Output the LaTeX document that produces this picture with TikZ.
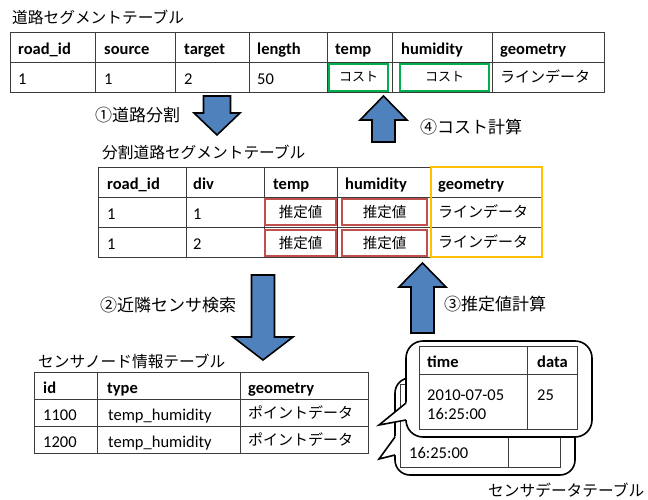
\documentclass[tikz,border=0pt]{standalone}
\usepackage{fontspec}
\setmainfont{Carlito}
\newfontfamily\jp{Noto Sans CJK JP}
\definecolor{arrowblue}{RGB}{79,129,189}
\definecolor{grn}{RGB}{0,176,80}
\definecolor{rd}{RGB}{192,80,77}
\definecolor{org}{RGB}{255,192,0}
\definecolor{gridc}{RGB}{60,60,60}
\begin{document}
\begin{tikzpicture}[x=1pt,y=-1pt,
  lt/.style={anchor=base west, inner sep=0pt, font=\fontsize{16.5}{19}\selectfont},
  lb/.style={anchor=base west, inner sep=0pt, font=\fontsize{16.5}{19}\selectfont\bfseries},
  jt/.style={anchor=base west, inner sep=0pt, font=\jp\fontsize{15.7}{18}\selectfont},
  jc/.style={anchor=base west, inner sep=0pt, font=\jp\fontsize{15}{17}\selectfont},
  jl/.style={anchor=base west, inner sep=0pt, font=\jp\fontsize{17}{19}\selectfont},
  gridline/.style={draw=gridc, line width=0.9},
  blockarrow/.style={fill=arrowblue, draw=black, line width=1.6, line join=miter},
  greenbox/.style={draw=grn, line width=2.6, fill=white},
  redbox/.style={draw=rd, line width=2.6, fill=white},
  orangebox/.style={draw=org, line width=2.6},
  callout/.style={draw=black, line width=1.6, fill=white},
]
\useasboundingbox[fill=white] (0,0) rectangle (648,500);

% ---------- top table ----------
\node[jt] (t1title) at (12,23.5) {道路セグメントテーブル};
\draw[gridline] (10,32) rectangle (604,92);
\draw[gridline] (10,62) -- (604,62);
\foreach \x in {95,175,249,327,392,492} \draw[gridline] (\x,32) -- (\x,92);
\node[lb] (t1h1) at (18,54.5) {road\_id};
\node[lb] (t1h2) at (104,54.5) {source};
\node[lb] (t1h3) at (184,54.5) {target};
\node[lb] (t1h4) at (257,54.5) {length};
\node[lb] (t1h5) at (335,54.5) {temp};
\node[lb] (t1h6) at (401,54.5) {humidity};
\node[lb] (t1h7) at (500,54.5) {geometry};
\node[lt] (t1d1) at (18,84.5) {1};
\node[lt] (t1d2) at (104,84.5) {1};
\node[lt] (t1d3) at (184,84.5) {2};
\node[lt] (t1d4) at (257,84.5) {50};
\draw[greenbox] (329,64) rectangle (388,91);
\draw[greenbox] (400,64) rectangle (489,91);
\node[anchor=base, inner sep=0pt, font=\jp\fontsize{13}{15}\selectfont] (t1c1) at (358.5,82) {コスト};
\node[anchor=base, inner sep=0pt, font=\jp\fontsize{13}{15}\selectfont] (t1c2) at (444.5,82) {コスト};
\node[jc] (t1d7) at (500,82.5) {ラインデータ};

% ---------- arrows 1 and 4 ----------
\draw[blockarrow] (203.5,96) -- (230.5,96) -- (230.5,113) -- (240,113) -- (217,135) -- (194,113) -- (203.5,113) -- cycle;
\node[jl] (lab1) at (95,121.5) {①道路分割};
\draw[blockarrow] (383.5,96) -- (407,120) -- (395,120) -- (395,142) -- (372,142) -- (372,120) -- (360,120) -- cycle;
\node[jl] (lab4) at (420,133.5) {④コスト計算};

% ---------- middle table ----------
\node[jt] (t2title) at (102,159) {分割道路セグメントテーブル};
\draw[gridline] (98,167) rectangle (542,257);
\draw[gridline] (98,197) -- (542,197);
\draw[gridline] (98,227) -- (542,227);
\foreach \x in {186,264,337,430} \draw[gridline] (\x,167) -- (\x,257);
\node[lb] (t2h1) at (107,189.5) {road\_id};
\node[lb] (t2h2) at (193,189.5) {div};
\node[lb] (t2h3) at (273,189.5) {temp};
\node[lb] (t2h4) at (345,189.5) {humidity};
\node[lb] (t2h5) at (438,189.5) {geometry};
\node[lt] (t2a1) at (107,219.5) {1};
\node[lt] (t2a2) at (193,219.5) {1};
\node[lt] (t2b1) at (107,249.5) {1};
\node[lt] (t2b2) at (193,249.5) {2};
\draw[redbox] (265,199) rectangle (336,225);
\draw[redbox] (342,199) rectangle (427,225);
\draw[redbox] (265,230) rectangle (336,256);
\draw[redbox] (342,230) rectangle (427,256);
\node[anchor=base, inner sep=0pt, font=\jp\fontsize{14.5}{17}\selectfont] (t2a3) at (300.5,217.5) {推定値};
\node[anchor=base, inner sep=0pt, font=\jp\fontsize{14.5}{17}\selectfont] (t2a4) at (384.5,217.5) {推定値};
\node[anchor=base, inner sep=0pt, font=\jp\fontsize{14.5}{17}\selectfont] (t2b3) at (300.5,248.5) {推定値};
\node[anchor=base, inner sep=0pt, font=\jp\fontsize{14.5}{17}\selectfont] (t2b4) at (384.5,248.5) {推定値};
\node[jc] (t2a5) at (438,217.5) {ラインデータ};
\node[jc] (t2b5) at (438,247.5) {ラインデータ};
\draw[orangebox] (431,167) rectangle (542,257);

% ---------- arrows 2 and 3 ----------
\draw[blockarrow] (251.5,275) -- (274.5,275) -- (274.5,337) -- (293,337) -- (263,360) -- (233,337) -- (251.5,337) -- cycle;
\node[jl] (lab2) at (100,311.5) {②近隣センサ検索};
\draw[blockarrow] (422.5,263) -- (446,287) -- (434,287) -- (434,333) -- (411,333) -- (411,287) -- (399,287) -- cycle;
\node[jl] (lab3) at (444,310) {③推定値計算};

% ---------- bottom-left table ----------
\node[jt] (t3title) at (38,367) {センサノード情報テーブル};
\draw[gridline] (34,372) rectangle (368,453);
\draw[gridline] (34,399) -- (368,399);
\draw[gridline] (34,426) -- (368,426);
\foreach \x in {97,240} \draw[gridline] (\x,372) -- (\x,453);
\node[lb] (t3h1) at (43,393) {id};
\node[lb] (t3h2) at (107,393) {type};
\node[lb] (t3h3) at (248,393) {geometry};
\node[lt] (t3a1) at (43,420) {1100};
\node[lt] (t3a2) at (108,420) {temp\_humidity};
\node[jc] (t3a3) at (248,418.5) {ポイントデータ};
\node[lt] (t3b1) at (43,447) {1200};
\node[lt] (t3b2) at (108,447) {temp\_humidity};
\node[jc] (t3b3) at (248,445.5) {ポイントデータ};

% ---------- sensor data callouts ----------
% back callout
\draw[callout, rounded corners=15] (395,378) rectangle (575,475);
\fill[white] (379,459) -- (397,434.3) -- (397,454.8) -- cycle;
\draw[line width=1.6, line join=miter] (395,437) -- (379,459) -- (395,455);
\draw[gridline] (400,384) rectangle (560,467);
\draw[gridline] (400,412) -- (560,412);
\draw[gridline] (508,412) -- (508,467);
\node[lt] (bk1) at (409,458) {16:25:00};
% front callout
\draw[callout, rounded corners=17] (406,341) rectangle (592,437);
\fill[white] (379,425) -- (408,401.4) -- (408,419.6) -- cycle;
\draw[line width=1.6, line join=miter] (406,403) -- (379,425) -- (406,420);
\draw[gridline] (419,346) rectangle (577,429);
\draw[gridline] (419,374) -- (577,374);
\draw[gridline] (527,346) -- (527,429);
\node[lb] (fh1) at (427,367.5) {time};
\node[lb] (fh2) at (537,367.5) {data};
\node[lt] (fd1) at (427,400) {2010-07-05};
\node[lt] (fd2) at (427,419) {16:25:00};
\node[lt] (fd3) at (537,400) {25};
\node[jt] (t4title) at (488,496) {センサデータテーブル};
\end{tikzpicture}
\end{document}
